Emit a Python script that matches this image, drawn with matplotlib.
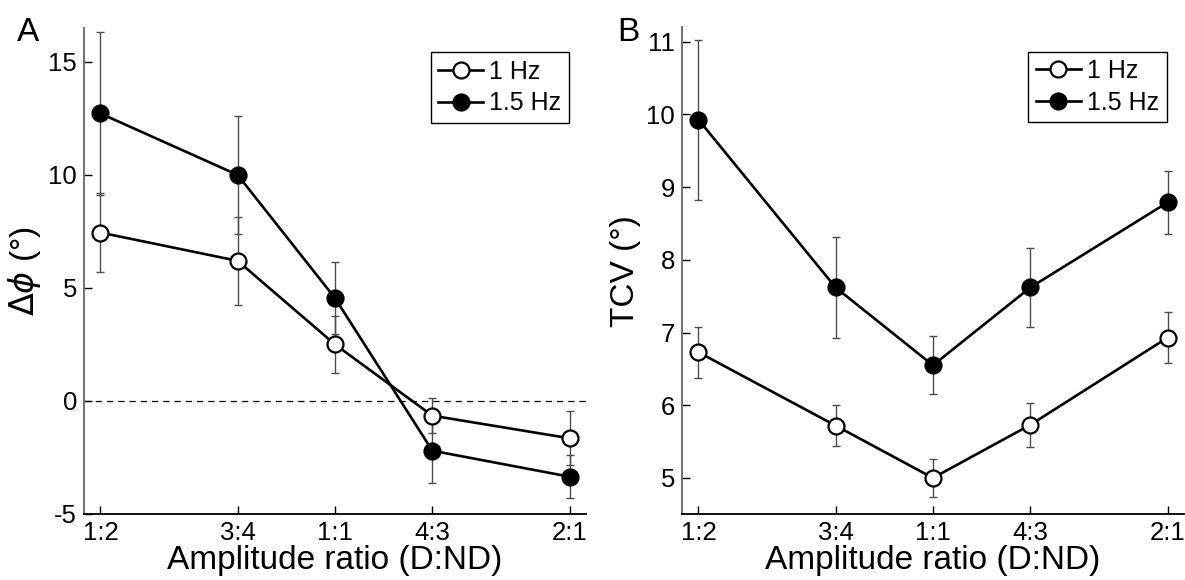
import matplotlib
matplotlib.use('Agg')
import matplotlib.pyplot as plt
import numpy as np

plt.rcParams['font.family'] = ['Liberation Sans', 'DejaVu Sans']
plt.rcParams['axes.unicode_minus'] = False

# amplitude ratios (D:ND) and their tick labels
ratios = [0.5, 0.75, 1.0, 4 / 3, 2.0]
ratio_labels = ['1:2', '3:4', '1:1', '4:3', '2:1']

# panel A: delta phi (deg)
dphi_1hz = [7.45, 6.2, 2.5, -0.65, -1.65]
dphi_1hz_err = [1.75, 1.95, 1.27, 0.78, 1.2]
dphi_15hz = [12.72, 10.0, 4.55, -2.2, -3.35]
dphi_15hz_err = [3.6, 2.62, 1.6, 1.43, 0.95]

# panel B: TCV (deg)
tcv_1hz = [6.73, 5.72, 5.0, 5.73, 6.93]
tcv_1hz_err = [0.35, 0.28, 0.26, 0.3, 0.35]
tcv_15hz = [9.93, 7.62, 6.55, 7.62, 8.79]
tcv_15hz_err = [1.1, 0.7, 0.4, 0.55, 0.43]

series_labels = ['1 Hz', '1.5 Hz']


def draw_panel(ax, y1, e1, y2, e2, ylim, yticks, ylabel):
    for y, e in [(y1, e1), (y2, e2)]:
        ax.errorbar(ratios, y, yerr=e, fmt='none', ecolor='0.3',
                    elinewidth=1.0, capsize=3, capthick=1.0, zorder=2)
    h1, = ax.plot(ratios, y1, color='black', lw=1.9, marker='o', ms=11.5,
                  mfc='white', mec='black', mew=1.6, zorder=3)
    h2, = ax.plot(ratios, y2, color='black', lw=1.9, marker='o', ms=11.5,
                  mfc='black', mec='black', mew=1.6, zorder=3)
    ax.set_xscale('log', base=2)
    ax.set_xlim(2 ** -1.07, 2 ** 1.07)
    ax.set_xticks(ratios)
    ax.set_xticklabels(ratio_labels)
    ax.xaxis.set_minor_locator(matplotlib.ticker.NullLocator())
    ax.set_ylim(*ylim)
    ax.set_yticks(yticks)
    ax.tick_params(direction='in', labelsize=18.5, length=6, width=1,
                   top=False, right=False, pad=5)
    ax.spines['top'].set_visible(False)
    ax.spines['right'].set_visible(False)
    ax.spines['left'].set_color('0.4')
    ax.spines['left'].set_linewidth(1.3)
    ax.spines['bottom'].set_linewidth(1.3)
    ax.set_xlabel('Amplitude ratio (D:ND)', fontsize=24, labelpad=0)
    ax.set_ylabel(ylabel, fontsize=24, labelpad=4)
    leg = ax.legend([h1, h2], series_labels, loc='upper right',
                    bbox_to_anchor=(0.966, 0.95), borderaxespad=0,
                    fontsize=18, fancybox=False, framealpha=1,
                    edgecolor='black', handlelength=1.8, handletextpad=0.25,
                    labelspacing=0.3, borderpad=0.3)
    leg.get_frame().set_linewidth(1.0)


fig = plt.figure(figsize=(11.85, 5.8), dpi=100)
axA = fig.add_axes([0.0709, 0.1138, 0.4236, 0.8379])
axB = fig.add_axes([0.5755, 0.1133, 0.4236, 0.8397])

draw_panel(axA, dphi_1hz, dphi_1hz_err, dphi_15hz, dphi_15hz_err,
           (-5, 16.5), [-5, 0, 5, 10, 15], r'$\Delta\phi$ (°)')
axA.axhline(0, color='black', lw=0.9, ls=(0, (5, 4)), zorder=1)

draw_panel(axB, tcv_1hz, tcv_1hz_err, tcv_15hz, tcv_15hz_err,
           (4.5, 11.2), [5, 6, 7, 8, 9, 10, 11], 'TCV (°)')

fig.text(0.0143, 0.97, 'A', fontsize=24, va='top', ha='left')
fig.text(0.5205, 0.97, 'B', fontsize=24, va='top', ha='left')

fig.savefig('out.png', dpi=100)
